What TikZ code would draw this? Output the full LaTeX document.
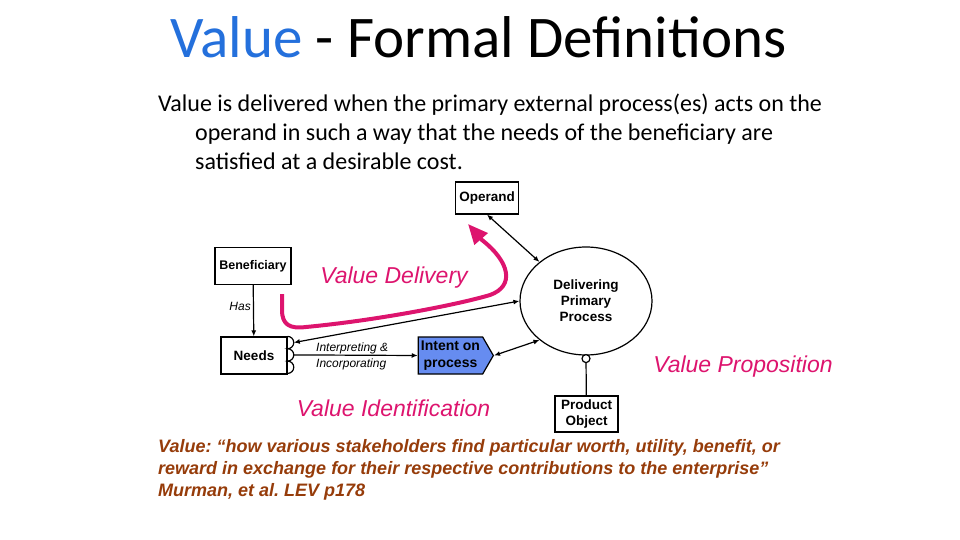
\documentclass[tikz,border=0pt]{standalone}
\usepackage{fontspec}
\setmainfont{Carlito}
\newfontfamily\arialfont{Liberation Sans}
\usepackage{xcolor}
\usetikzlibrary{calc,arrows.meta,positioning,shapes.geometric,shapes.symbols}
\definecolor{titleblue}{RGB}{36,112,220}
\definecolor{vpink}{RGB}{221,20,110}
\definecolor{intentblue}{RGB}{102,140,240}
\definecolor{quotebrown}{RGB}{150,60,10}
\frenchspacing

\begin{document}
\begin{tikzpicture}[x=1pt,y=-1pt,
    box/.style={draw,line width=1.2pt,minimum height=36pt,inner sep=1pt,align=center,font=\arialfont\bfseries\fontsize{13.5}{16}\selectfont},
    lbl/.style={font=\arialfont\itshape\fontsize{12}{16}\selectfont,inner sep=0pt},
    vlbl/.style={font=\arialfont\itshape\fontsize{23}{26}\selectfont,text=vpink,inner sep=0pt},
    link/.style={line width=1.2pt,{Latex[length=6pt,width=5pt]}-{Latex[length=6pt,width=5pt]}},
    onelink/.style={line width=1.2pt,-{Latex[length=6pt,width=5pt]}}]
  \useasboundingbox (0,0) rectangle (960,540);
  \node[anchor=base west,inner sep=0pt,font=\fontsize{59}{70}\selectfont] (title) at (170,58)
    {\textcolor{titleblue}{Value} - Formal Definitions};
  \node[anchor=base west,inner sep=0pt,align=left,font=\fontsize{24}{29}\selectfont] (defn) at (158,170)
    {Value is delivered when the primary external process(es) acts on the\\
     \hspace*{37pt}operand in such a way that the needs of the beneficiary are\\
     \hspace*{37pt}satisfied at a desirable cost.};

  \node[box,minimum width=63pt,minimum height=32pt] (operand) at (487,198) {Operand};
  \node[box,minimum width=76pt,minimum height=37pt,font=\arialfont\bfseries\fontsize{12.5}{14}\selectfont] (benef) at (253,266) {Beneficiary};
  \node[box,minimum width=66pt,minimum height=37pt] (needs) at (254,355.5) {Needs};
  \node[box,signal,signal to=east,signal pointer angle=120,fill=intentblue,minimum width=75pt,minimum height=37pt,inner sep=0pt,
    font=\arialfont\bfseries\fontsize{14}{16.5}\selectfont] (intent) at (450.5,355.5) {Intent on\\process};
  \node[box,ellipse,minimum width=132pt,minimum height=108pt] (deliv) at (586,301) {Delivering\\Primary\\Process};
  \node[box,minimum width=63pt,minimum height=36pt] (prod) at (586.5,414) {Product\\Object};
  \node[circle,draw,line width=1.2pt,fill=white,inner sep=0pt,minimum size=8pt] (oc) at ($(deliv.south)+(0,3)$) {};

  \draw[line width=1.2pt] (needs.north east) arc[start angle=-90,end angle=90,radius=6.17]
    arc[start angle=-90,end angle=90,radius=6.17] arc[start angle=-90,end angle=90,radius=6.17];
  \coordinate (nb1) at ($(needs.north east)+(6.17,6.17)$);
  \coordinate (nb2) at ($(needs.north east)+(6.17,18.5)$);

  \draw[onelink] (benef) -- (needs);
  \node[lbl,anchor=east] (has) at (251,306) {Has};
  \draw[link] (nb1) -- (deliv.west);
  \draw[onelink] (nb2) -- (intent.west);
  \node[lbl,anchor=west,align=left] (interp) at (316,356) {Interpreting \&\\Incorporating};
  \draw[link] (intent.east) -- (deliv.220);
  \draw[link] (operand.south) -- (deliv.140);
  \draw[line width=1.2pt] (oc) -- (prod);

  \coordinate (dstart) at (282,294);
  \coordinate (dend) at (468,224);
  \draw[line width=4pt,vpink,-{Triangle[length=20pt,width=17pt]}] (dstart) -- (282,310)
    .. controls (282,325) and (290,329) .. (306,327)
    .. controls (380,320) and (460,304) .. (490,295)
    .. controls (515,286) and (510,262) .. (482,240) -- (dend);

  \node[vlbl] (vdel) at (394,278) {Value Delivery};
  \node[vlbl] (vident) at (393.5,408) {Value Identification};
  \node[vlbl] (vprop) at (743,367) {Value Proposition};

  \node[anchor=base west,inner sep=0pt,align=left,text=quotebrown,
    font=\arialfont\bfseries\itshape\fontsize{18}{21.7}\selectfont] (quote) at (158,496)
    {Value: “how various stakeholders find particular worth, utility, benefit, or\\
     reward in exchange for their respective contributions to the enterprise”\\
     Murman, et al. LEV p178};
\end{tikzpicture}
\end{document}
